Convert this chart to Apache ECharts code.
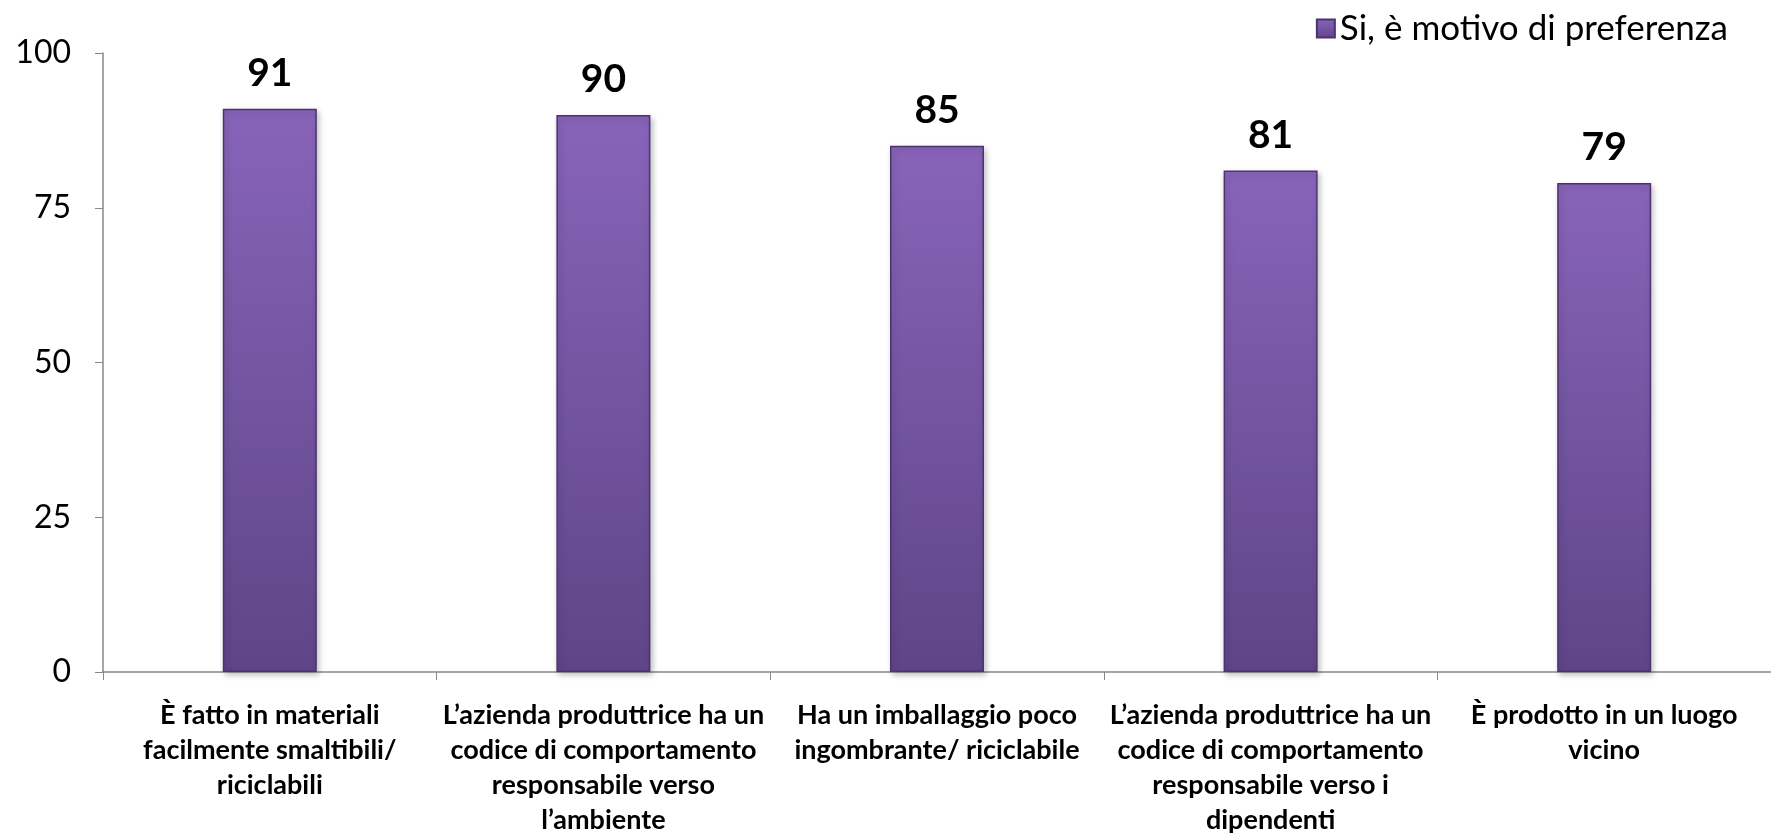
<!DOCTYPE html>
<html>
<head>
<meta charset="utf-8">
<script src="https://cdn.jsdelivr.net/npm/echarts@6/dist/echarts.min.js"></script>
<style>html,body{margin:0;padding:0;background:#fff}#c{width:1771px;height:838px}</style>
</head>
<body>
<div id="c"></div>
<script>
const categories = [
  "È fatto in materiali\nfacilmente smaltibili/\nriciclabili",
  "L’azienda produttrice ha un\ncodice di comportamento\nresponsabile verso\nl’ambiente",
  "Ha un imballaggio poco\ningombrante/ riciclabile",
  "L’azienda produttrice ha un\ncodice di comportamento\nresponsabile verso i\ndipendenti",
  "È prodotto in un luogo\nvicino"
];
const seriesName = "Si, è motivo di preferenza";
const values = [91, 90, 85, 81, 79];
const yTicks = [0, 25, 50, 75, 100];

const chart = echarts.init(document.getElementById('c'));
const font = "Lato, 'Open Sans', sans-serif";
chart.setOption({
  animation: false,
  textStyle: { fontFamily: font },
  legend: {
    data: [{ name: seriesName, icon: 'rect' }],
    right: 38, top: 6,
    itemWidth: 18, itemHeight: 18, itemGap: 8,
    textStyle: { fontSize: 35, color: '#000', fontFamily: font }
  },
  grid: { left: 103, top: 53, width: 1675, height: 619, containLabel: false },
  xAxis: {
    type: 'category',
    data: categories,
    axisLine: { lineStyle: { color: '#888', width: 1.5 } },
    axisTick: { show: true, length: 8, lineStyle: { color: '#888' } },
    axisLabel: {
      interval: 0, margin: 26, fontSize: 27, fontWeight: 'bold', color: '#000',
      lineHeight: 35, fontFamily: font
    }
  },
  yAxis: {
    type: 'value', min: yTicks[0], max: yTicks[yTicks.length - 1], interval: 25,
    splitLine: { show: false },
    axisLine: { show: true, lineStyle: { color: '#888', width: 1.5 } },
    axisTick: { show: true, length: 8, lineStyle: { color: '#888' } },
    axisLabel: { fontSize: 32, color: '#000', margin: 32, fontFamily: font }
  },
  series: [{
    name: seriesName,
    type: 'bar',
    data: values,
    barWidth: 94,
    itemStyle: {
      color: new echarts.graphic.LinearGradient(0, 0, 0, 1, [
        { offset: 0, color: '#8864b9' },
        { offset: 1, color: '#5f4588' }
      ]),
      borderColor: '#4a3370', borderWidth: 1.5,
      shadowColor: 'rgba(0,0,0,0.25)', shadowBlur: 6, shadowOffsetX: 2, shadowOffsetY: 3
    },
    label: {
      show: true, position: 'top', distance: 16,
      fontSize: 39, fontWeight: 'bold', color: '#000', fontFamily: font
    }
  }]
});
</script>
</body>
</html>
